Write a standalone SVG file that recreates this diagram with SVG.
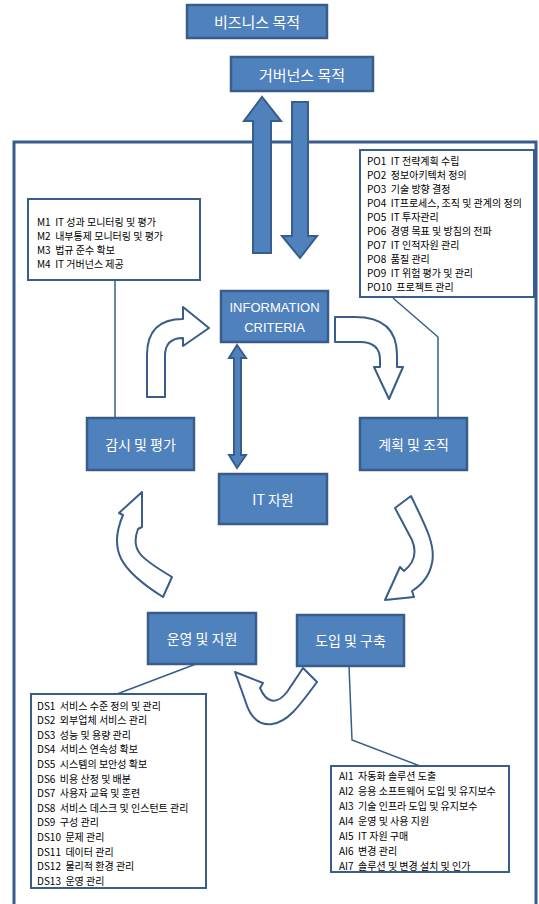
<svg xmlns="http://www.w3.org/2000/svg" width="539" height="904" viewBox="0 0 539 904">
<style>
.box{fill:#4F81BD;stroke:#385D8A;stroke-width:2.5}
.lbl{fill:#fff;font-family:"Noto Sans CJK KR","Noto Sans",sans-serif;font-size:14px;text-anchor:middle;dominant-baseline:central}
.lbl15{font-size:15px}
.en{font-family:"Liberation Sans",Arial,sans-serif;font-size:13px}
.list{fill:#fff;stroke:#385D8A;stroke-width:2}
.lt{fill:#000;font-family:"Noto Sans CJK KR","Noto Sans",sans-serif;font-size:10px;dominant-baseline:central;white-space:pre}
.con{fill:none;stroke:#385D8A;stroke-width:1.5}
.big{fill:#4F81BD;stroke:#385D8A;stroke-width:2;stroke-linejoin:miter}
.out{fill:#fff;stroke:#385D8A;stroke-width:2;stroke-linejoin:round}
</style>
<rect width="539" height="904" fill="#fff"/>
<g id="frame">
<path d="M14,906 L14,142 L536,142 L536,906" fill="none" stroke="#385D8A" stroke-width="3"/>
</g>
<g id="connectors">
<line class="con" x1="115" y1="280" x2="115" y2="418"/>
<polyline class="con" points="393,298 438,337 438,418"/>
<line class="con" x1="196" y1="664" x2="117" y2="694"/>
<polyline class="con" points="349,666 352,740 420,766"/>
<path class="big" d="M253,253 L253,121 L244,121 L262,97 L281,121 L271,121 L271,253 Z"/>
<path class="big" d="M292,102 L308,102 L308,236 L317,236 L300,258 L282,236 L292,236 Z"/>
<path class="big" d="M237,345 L246,358 L241,358 L241,455 L246,455 L237,468 L229,455 L234,455 L234,358 L229,358 Z"/>
<path class="out" d="M147,397 L147,355 Q147,319 183,319 L183,307 L209,328 L183,346 L183,338 Q165,338 165,356 L165,397 Z"/>
<path class="out" d="M335,317 L355,317 Q397,317 397,355 L397,367 L403,367 L389,399 L374,367 L380,367 L380,360 Q380,342 360,342 L335,342 Z"/>
<path class="out" d="M142,492 L142,527 L138,529 C130,550 140,558 172,577 L163,597 C120,570 108,550 123,515 L119,513 Z"/>
<path class="out" d="M395,508 L411,496 C425,525 436,545 432,563 C429,578 420,586 412,591 L414,597 L385,600 L400,567 L404,571 C414,563 417,552 412,540 Z"/>
<path class="out" d="M303,668 L317,682 C300,705 288,722 272,724 C256,726 249,714 245,700 L235,672 L263,683 L260,688 C266,702 276,706 287,692 Z"/>
</g>
<g id="business">
<rect class="box" x="187" y="5" width="140" height="33"/>
<text class="lbl lbl15" x="257" y="21">비즈니스 목적</text>
</g>
<g id="governance">
<rect class="box" x="231" y="57" width="142" height="34"/>
<text class="lbl lbl15" x="302" y="74">거버넌스 목적</text>
</g>
<g id="info-criteria">
<rect class="box" x="221" y="291" width="107" height="51"/>
<text class="lbl en" x="274.5" y="307">INFORMATION</text>
<text class="lbl en" x="274.5" y="327">CRITERIA</text>
</g>
<g id="monitor">
<rect class="box" x="87" y="418" width="107" height="52"/>
<text class="lbl" x="140.5" y="444">감시 및 평가</text>
</g>
<g id="plan">
<rect class="box" x="360" y="418" width="107" height="52"/>
<text class="lbl" x="413.5" y="444">계획 및 조직</text>
</g>
<g id="it-resource">
<rect class="box" x="219" y="474" width="108" height="50"/>
<text class="lbl" x="273" y="499">IT 자원</text>
</g>
<g id="deliver">
<rect class="box" x="148" y="613" width="108" height="51"/>
<text class="lbl" x="202" y="638">운영 및 지원</text>
</g>
<g id="acquire">
<rect class="box" x="297" y="615" width="107" height="51"/>
<text class="lbl" x="350.5" y="640">도입 및 구축</text>
</g>
<g id="m-list">
<rect class="list" x="28" y="199" width="172" height="81"/>
<text class="lt" x="37" y="221">M1  IT 성과 모니터링 및 평가</text>
<text class="lt" x="37" y="235">M2  내부통제 모니터링 및 평가</text>
<text class="lt" x="37" y="249">M3  법규 준수 확보</text>
<text class="lt" x="37" y="263">M4  IT 거버넌스 제공</text>
</g>
<g id="po-list">
<rect class="list" x="360" y="150" width="174" height="147"/>
<text class="lt" x="367" y="160">PO1  IT 전략계획 수립</text>
<text class="lt" x="367" y="174">PO2  정보아키텍처 정의</text>
<text class="lt" x="367" y="188">PO3  기술 방향 결정</text>
<text class="lt" x="367" y="202">PO4  IT프로세스, 조직 및 관계의 정의</text>
<text class="lt" x="367" y="216">PO5  IT 투자관리</text>
<text class="lt" x="367" y="230">PO6  경영 목표 및 방침의 전파</text>
<text class="lt" x="367" y="244">PO7  IT 인적자원 관리</text>
<text class="lt" x="367" y="258">PO8  품질 관리</text>
<text class="lt" x="367" y="272">PO9  IT 위험 평가 및 관리</text>
<text class="lt" x="367" y="286">PO10  프로젝트 관리</text>
</g>
<g id="ds-list">
<rect class="list" x="31" y="694" width="175" height="194"/>
<text class="lt" x="37" y="705">DS1  서비스 수준 정의 및 관리</text>
<text class="lt" x="37" y="719.6">DS2  외부업체 서비스 관리</text>
<text class="lt" x="37" y="734.2">DS3  성능 및 용량 관리</text>
<text class="lt" x="37" y="748.8">DS4  서비스 연속성 확보</text>
<text class="lt" x="37" y="763.4">DS5  시스템의 보안성 확보</text>
<text class="lt" x="37" y="778">DS6  비용 산정 및 배분</text>
<text class="lt" x="37" y="792.6">DS7  사용자 교육 및 훈련</text>
<text class="lt" x="37" y="807.2">DS8  서비스 데스크 및 인스턴트 관리</text>
<text class="lt" x="37" y="821.8">DS9  구성 관리</text>
<text class="lt" x="37" y="836.4">DS10  문제 관리</text>
<text class="lt" x="37" y="851">DS11  데이터 관리</text>
<text class="lt" x="37" y="865.6">DS12  물리적 환경 관리</text>
<text class="lt" x="37" y="880.2">DS13  운영 관리</text>
</g>
<g id="ai-list">
<rect class="list" x="331" y="766" width="178" height="106"/>
<text class="lt" x="339" y="775">AI1  자동화 솔루션 도출</text>
<text class="lt" x="339" y="790">AI2  응용 소프트웨어 도입 및 유지보수</text>
<text class="lt" x="339" y="805">AI3  기술 인프라 도입 및 유지보수</text>
<text class="lt" x="339" y="820">AI4  운영 및 사용 지원</text>
<text class="lt" x="339" y="835">AI5  IT 자원 구매</text>
<text class="lt" x="339" y="850">AI6  변경 관리</text>
<text class="lt" x="339" y="865">AI7  솔루션 및 변경 설치 및 인가</text>
</g>
</svg>
